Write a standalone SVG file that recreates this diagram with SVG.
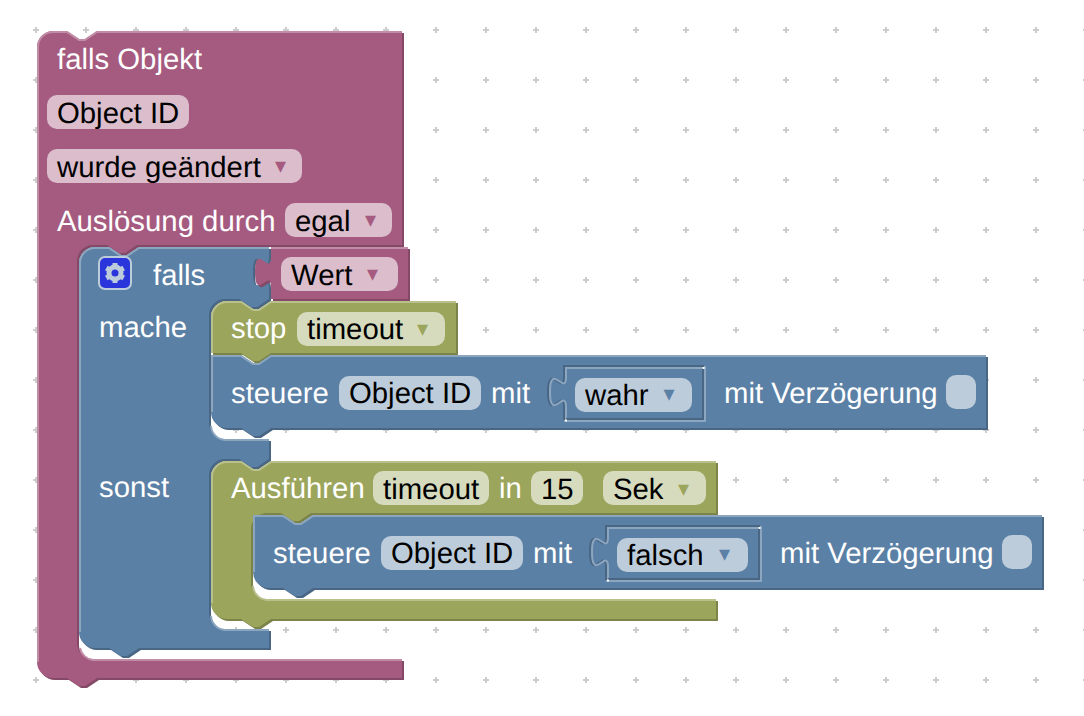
<svg xmlns="http://www.w3.org/2000/svg" width="1084" height="716" viewBox="0 0 1084 716">
  <style>
    text { font-family: "Liberation Sans", Arial, sans-serif; font-size: 29.33px; text-rendering: geometricPrecision; }
    .lbl { fill: #fff; }
    .val { fill: #000; }
    .arw { font-family: "DejaVu Sans", sans-serif; font-size: 22px; }
    .edge { fill: none; stroke-width: 2; }
    .pink { fill: #a55b80; } .pink-d { fill: #844966; } .pink-l { stroke: #c08ca6; } .pink-f { fill: #dbbdcc; } .pink-a { fill: #a55b80; }
    .blue { fill: #5b80a5; } .blue-d { fill: #496684; } .blue-l { stroke: #8ca6c0; } .blue-f { fill: #bdccdb; } .blue-a { fill: #5b80a5; }
    .olive { fill: #9ba55b; } .olive-d { fill: #7c8449; } .olive-l { stroke: #b9c08c; } .olive-f { fill: #d6dbbd; } .olive-a { fill: #9ba55b; }
    .slot-d { fill: none; stroke: #496684; stroke-width: 2; }
    .slot-l { fill: none; stroke: #8ca6c0; stroke-width: 2; }
  </style>
  <defs>
    <pattern id="grid" x="11" y="5" width="50" height="50" patternUnits="userSpaceOnUse">
      <path d="M22,25H28M25,22V28" fill="none" stroke="#ccc" stroke-width="2"/>
    </pattern>
    <path id="s-trigger" d="M37,47a16,16 0 0 1 16,-16H67l12,8 6,0 12,-8H402V245H137l-12,8 -6,0 -12,-8H93a16,16 0 0 0 -16,16V643a16,16 0 0 0 16,16H402V678H97l-12,8 -6,0 -12,-8H53a16,16 0 0 1 -16,-16Z"/>
    <path id="s-ifelse" d="M79,263a16,16 0 0 1 16,-16H109l12,8 6,0 12,-8H269V257c0,20 -16,-16 -16,15s16,-5 16,15V299l-12,8 -6,0 -12,-8H225a16,16 0 0 0 -16,16V423a16,16 0 0 0 16,16H269V459l-12,8 -6,0 -12,-8H225a16,16 0 0 0 -16,16V613a16,16 0 0 0 16,16H269V648H139l-12,8 -6,0 -12,-8H95a16,16 0 0 1 -16,-16Z"/>
    <path id="s-wert" d="M271,247H408V299H271V287c0,-20 -16,16 -16,-15s16,5 16,-15Z"/>
    <path id="s-stop" d="M211,317a16,16 0 0 1 16,-16H241l12,8 6,0 12,-8H456V353H271l-12,8 -6,0 -12,-8H211Z"/>
    <path id="s-control1" d="M211,355H241l12,8 6,0 12,-8H986V428H271l-12,8 -6,0 -12,-8H227a16,16 0 0 1 -16,-16Z"/>
    <path id="s-timeout" d="M211,477a16,16 0 0 1 16,-16H241l12,8 6,0 12,-8H716V513H311l-12,8 -6,0 -12,-8H267a16,16 0 0 0 -16,16V583a16,16 0 0 0 16,16H716V619H271l-12,8 -6,0 -12,-8H227a16,16 0 0 1 -16,-16Z"/>
    <path id="s-control2" d="M253,515H283l12,8 6,0 12,-8H1042V588H313l-12,8 -6,0 -12,-8H269a16,16 0 0 1 -16,-16Z"/>
  </defs>

  <rect width="1084" height="716" fill="#fff"/>
  <rect width="1084" height="716" fill="url(#grid)"/>

  <g id="trigger">
    <use href="#s-trigger" class="pink-d" transform="translate(2,2)"/>
    <use href="#s-trigger" class="pink"/>
    <path class="edge pink-l" d="M38,662V47a15,15 0 0 1 15,-15H67l12,8 6,0 12,-8H402M80,648A15,15 0 0 0 93,660H402"/>
    <text class="lbl" x="57" y="69">falls Objekt</text>
    <rect class="pink-f" x="47" y="95" width="142" height="34" rx="10"/>
    <text class="val" x="57" y="123">Object ID</text>
    <rect class="pink-f" x="47" y="149" width="255" height="34" rx="10"/>
    <text class="val" x="57" y="177">wurde geändert<tspan class="arw pink-a" x="268" y="173"> ▾</tspan></text>
    <rect class="pink-f" x="285" y="203" width="107" height="34" rx="10"/>
    <text class="lbl" x="57" y="231">Auslösung durch</text>
    <text class="val" x="295" y="231">egal<tspan class="arw pink-a" x="358" y="227"> ▾</tspan></text>
  </g>

  <g id="if-else">
    <use href="#s-ifelse" class="blue-d" transform="translate(2,2)"/>
    <use href="#s-ifelse" class="blue"/>
    <path class="edge blue-l" d="M80,632V263a15,15 0 0 1 15,-15H109l12,8 6,0 12,-8H269M211,426A15,15 0 0 0 225,440H269M211,616A15,15 0 0 0 225,630H269"/>
    <g id="mutator">
      <rect x="99" y="257" width="32" height="32" rx="6" fill="#2a35dc" stroke="#bdccdb" stroke-width="2"/>
      <g stroke="#bdccdb" stroke-width="5" fill="none">
        <path d="M115,263V283M106.300,268L123.700,278M106.300,278L123.700,268"/>
        <circle cx="115" cy="273" r="6" stroke-width="5"/>
      </g>
      <circle cx="115" cy="273" r="3.500" fill="#2a35dc"/>
    </g>
    <text class="lbl" x="153" y="285">falls</text>
    <text class="lbl" x="99" y="337">mache</text>
    <text class="lbl" x="99" y="497">sonst</text>
  </g>

  <g id="value-wert">
    <use href="#s-wert" class="pink-d" transform="translate(2,2)"/>
    <use href="#s-wert" class="pink"/>
    <path class="edge pink-l" d="M271,248H408"/>
    <rect class="pink-f" x="281" y="257" width="117" height="34" rx="10"/>
    <text class="val" x="291" y="285">Wert<tspan class="arw pink-a" x="360" y="281"> ▾</tspan></text>
  </g>

  <g id="stop-timeout">
    <use href="#s-stop" class="olive-d" transform="translate(2,2)"/>
    <use href="#s-stop" class="olive"/>
    <path class="edge olive-l" d="M212,353V317a15,15 0 0 1 15,-15H241l12,8 6,0 12,-8H456"/>
    <text class="lbl" x="231" y="338">stop</text>
    <rect class="olive-f" x="297" y="312" width="148" height="34" rx="10"/>
    <text class="val" x="307" y="339">timeout<tspan class="arw olive-a" x="410" y="336"> ▾</tspan></text>
  </g>

  <g id="control-true">
    <use href="#s-control1" class="blue-d" transform="translate(2,2)"/>
    <use href="#s-control1" class="blue"/>
    <path class="edge blue-l" d="M212,412V356H241l12,8 6,0 12,-8H986"/>
    <text class="lbl" x="231" y="403">steuere</text>
    <rect class="blue-f" x="339" y="376" width="142" height="34" rx="10"/>
    <text class="val" x="349" y="403">Object ID</text>
    <text class="lbl" x="491" y="403">mit</text>
    <g id="value-wahr">
      <path class="slot-d" d="M704,366H564V377c0,20 -16,-16 -16,15s16,-5 16,15V420"/>
      <path class="slot-l" d="M564,421H705V366"/>
      <path class="slot-l" d="M566,419V407c0,-20 -16,16 -16,-15s16,5 16,-15V368H703"/>
      <path class="slot-d" d="M703,368V419H566"/>
      <rect x="702.500" y="367" width="2" height="2" fill="#fff"/>
      <rect x="565" y="419.500" width="2" height="2" fill="#fff"/>
      <rect class="blue-f" x="575" y="378" width="117" height="34" rx="10"/>
      <text class="val" x="585" y="405">wahr<tspan class="arw blue-a" x="656.500" y="401"> ▾</tspan></text>
    </g>
    <text class="lbl" x="724" y="403">mit Verzögerung</text>
    <rect class="blue-f" x="946" y="375" width="30" height="34" rx="10"/>
  </g>

  <g id="run-timeout">
    <use href="#s-timeout" class="olive-d" transform="translate(2,2)"/>
    <use href="#s-timeout" class="olive"/>
    <path class="edge olive-l" d="M212,603V477a15,15 0 0 1 15,-15H241l12,8 6,0 12,-8H716M253,586A15,15 0 0 0 267,600H716"/>
    <text class="lbl" x="231" y="498">Ausführen</text>
    <rect class="olive-f" x="373" y="471" width="116" height="34" rx="10"/>
    <text class="val" x="383" y="499">timeout</text>
    <text class="lbl" x="499" y="498">in</text>
    <rect class="olive-f" x="531" y="471" width="52" height="34" rx="10"/>
    <text class="val" x="541" y="499">15</text>
    <rect class="olive-f" x="603" y="471" width="103" height="34" rx="10"/>
    <text class="val" x="613" y="499">Sek<tspan class="arw olive-a" x="671" y="496"> ▾</tspan></text>
  </g>

  <g id="control-false">
    <use href="#s-control2" class="blue-d" transform="translate(2,2)"/>
    <use href="#s-control2" class="blue"/>
    <path class="edge blue-l" d="M254,572V516H283l12,8 6,0 12,-8H1042"/>
    <text class="lbl" x="273" y="563">steuere</text>
    <rect class="blue-f" x="381" y="536" width="142" height="34" rx="10"/>
    <text class="val" x="391" y="563">Object ID</text>
    <text class="lbl" x="533" y="563">mit</text>
    <g id="value-falsch">
      <path class="slot-d" d="M760,526H606V537c0,20 -16,-16 -16,15s16,-5 16,15V580"/>
      <path class="slot-l" d="M606,581H761V526"/>
      <path class="slot-l" d="M608,579V567c0,-20 -16,16 -16,-15s16,5 16,-15V528H759"/>
      <path class="slot-d" d="M759,528V579H608"/>
      <rect x="758.500" y="527" width="2" height="2" fill="#fff"/>
      <rect x="607" y="579.500" width="2" height="2" fill="#fff"/>
      <rect class="blue-f" x="617" y="538" width="131" height="34" rx="10"/>
      <text class="val" x="627" y="565">falsch<tspan class="arw blue-a" x="712" y="561"> ▾</tspan></text>
    </g>
    <text class="lbl" x="780" y="563">mit Verzögerung</text>
    <rect class="blue-f" x="1002" y="535" width="30" height="34" rx="10"/>
  </g>
</svg>
